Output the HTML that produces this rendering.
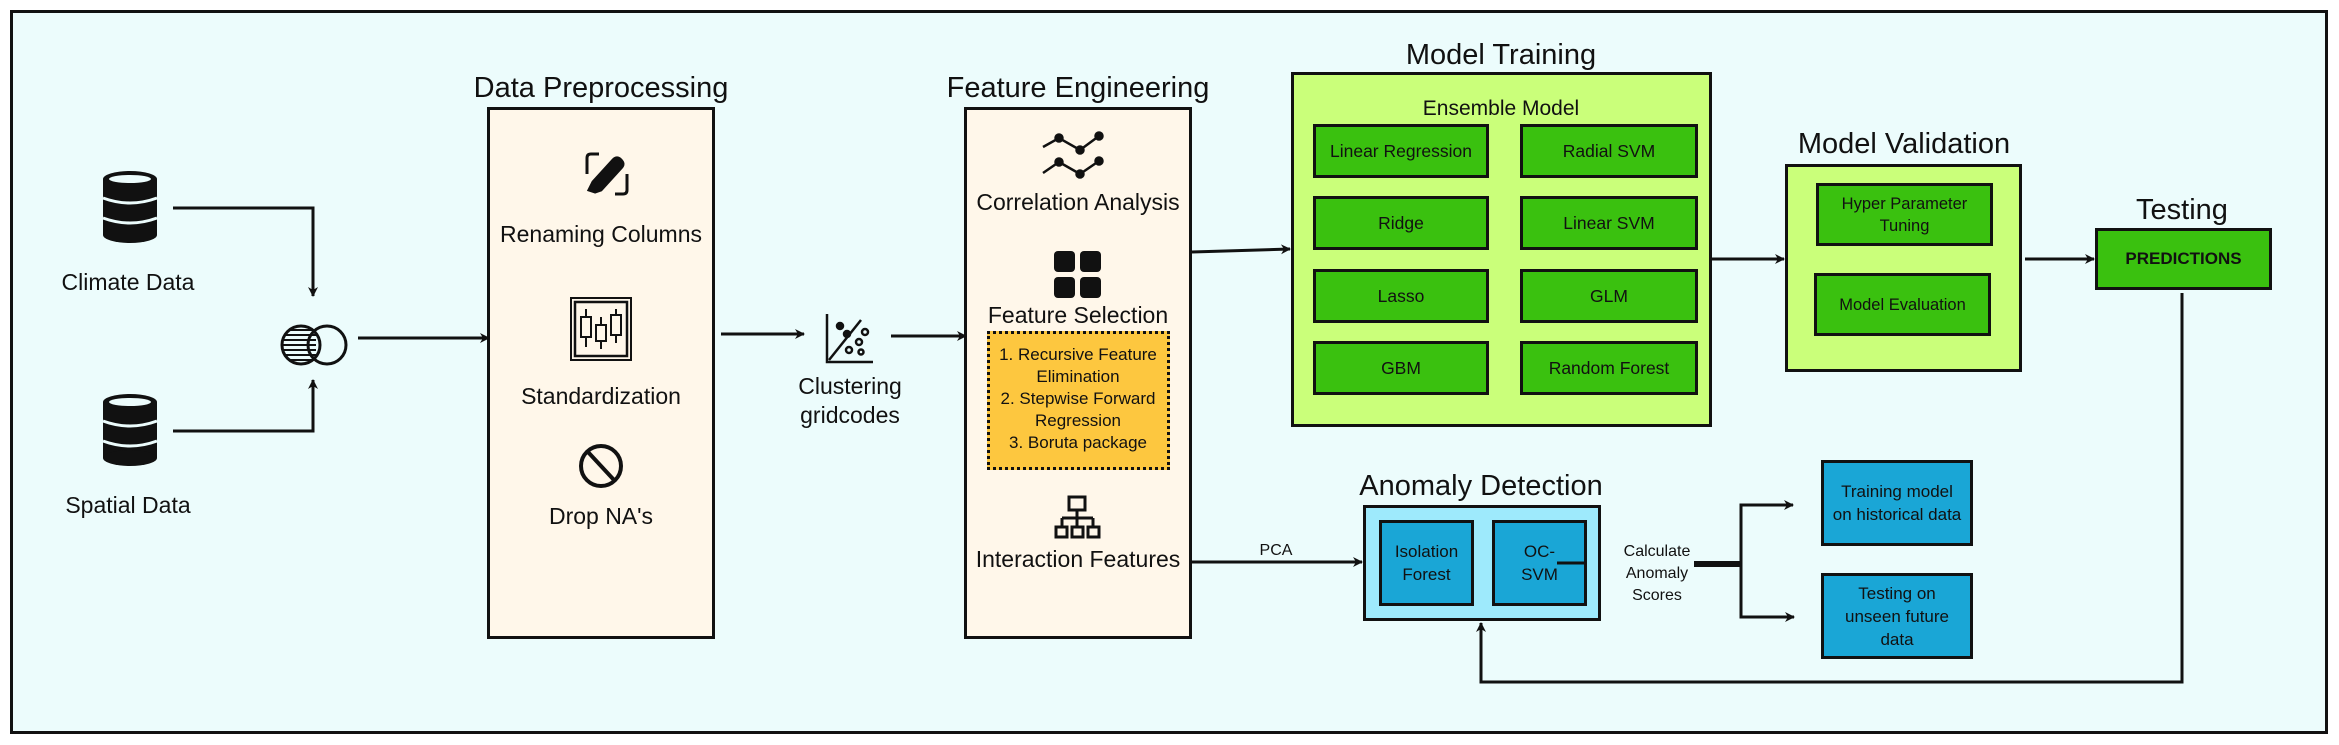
<!DOCTYPE html>
<html><head><meta charset="utf-8"><style>
body{margin:0;width:2339px;height:745px;background:#fff;position:relative;overflow:hidden;font-family:"Liberation Sans",sans-serif;color:#111}
.a{position:absolute;box-sizing:border-box}
.t{position:absolute;text-align:center;white-space:nowrap;transform:translateX(-50%)}
.g{position:absolute;box-sizing:border-box;background:#3ac10f;border:3px solid #111;display:flex;align-items:center;justify-content:center;text-align:center;font-size:17.5px;line-height:24px}
.b{position:absolute;box-sizing:border-box;background:#1aa6d6;border:3px solid #111;display:flex;align-items:center;justify-content:center;text-align:center;font-size:17px;line-height:23px}
</style></head><body>
<div class="a" style="left:10px;top:10px;width:2318px;height:724px;background:#ecfcfc;border:3px solid #111"></div>

<div class="a" style="left:487px;top:107px;width:228px;height:532px;background:#fff7ea;border:3px solid #111"></div>
<div class="a" style="left:964px;top:107px;width:228px;height:532px;background:#fff7ea;border:3px solid #111"></div>
<div class="a" style="left:987px;top:331px;width:183px;height:139px;background:#fdc73f;border:3px dotted #111"></div>
<div class="a" style="left:1291px;top:72px;width:421px;height:355px;background:#caff7a;border:3px solid #111"></div>
<div class="a" style="left:1785px;top:164px;width:237px;height:208px;background:#caff7a;border:3px solid #111"></div>
<div class="a" style="left:1363px;top:505px;width:238px;height:116px;background:#9eeafc;border:3px solid #111"></div>

<div class="t" style="left:601px;top:72px;font-size:29px">Data Preprocessing</div>
<div class="t" style="left:1078px;top:72px;font-size:29px">Feature Engineering</div>
<div class="t" style="left:1501px;top:39px;font-size:29px">Model Training</div>
<div class="t" style="left:1904px;top:128px;font-size:29px">Model Validation</div>
<div class="t" style="left:2182px;top:194px;font-size:29px">Testing</div>
<div class="t" style="left:1481px;top:470px;font-size:29px">Anomaly Detection</div>

<div class="t" style="left:128px;top:269px;font-size:23px">Climate Data</div>
<div class="t" style="left:128px;top:492px;font-size:23px">Spatial Data</div>
<div class="t" style="left:601px;top:221px;font-size:23px">Renaming Columns</div>
<div class="t" style="left:601px;top:383px;font-size:23px">Standardization</div>
<div class="t" style="left:601px;top:503px;font-size:23px">Drop NA's</div>
<div class="t" style="left:850px;top:372px;font-size:23px;line-height:29px">Clustering<br>gridcodes</div>
<div class="t" style="left:1078px;top:189px;font-size:23px">Correlation Analysis</div>
<div class="t" style="left:1078px;top:302px;font-size:23px">Feature Selection</div>
<div class="t" style="left:1078px;top:344px;font-size:17px;line-height:22px">1. Recursive Feature<br>Elimination<br>2. Stepwise Forward<br>Regression<br>3. Boruta package</div>
<div class="t" style="left:1078px;top:546px;font-size:23px">Interaction Features</div>
<div class="t" style="left:1501px;top:97px;font-size:21px">Ensemble Model</div>
<div class="t" style="left:1276px;top:542px;font-size:16px">PCA</div>
<div class="t" style="left:1657px;top:541px;font-size:16px;line-height:22px">Calculate<br>Anomaly<br>Scores</div>

<div class="g" style="left:1313px;top:124px;width:176px;height:54px">Linear Regression</div>
<div class="g" style="left:1520px;top:124px;width:178px;height:54px">Radial SVM</div>
<div class="g" style="left:1313px;top:196px;width:176px;height:54px">Ridge</div>
<div class="g" style="left:1520px;top:196px;width:178px;height:54px">Linear SVM</div>
<div class="g" style="left:1313px;top:269px;width:176px;height:54px">Lasso</div>
<div class="g" style="left:1520px;top:269px;width:178px;height:54px">GLM</div>
<div class="g" style="left:1313px;top:341px;width:176px;height:54px">GBM</div>
<div class="g" style="left:1520px;top:341px;width:178px;height:54px">Random Forest</div>
<div class="g" style="left:1816px;top:183px;width:177px;height:63px;font-size:16.5px;line-height:22px">Hyper Parameter<br>Tuning</div>
<div class="g" style="left:1814px;top:273px;width:177px;height:63px;font-size:16.5px">Model Evaluation</div>
<div class="g" style="left:2095px;top:228px;width:177px;height:62px;font-weight:bold;font-size:17px">PREDICTIONS</div>

<div class="b" style="left:1379px;top:520px;width:95px;height:86px">Isolation<br>Forest</div>
<div class="b" style="left:1492px;top:520px;width:95px;height:86px">OC-<br>SVM</div>
<div class="b" style="left:1821px;top:460px;width:152px;height:86px">Training model<br>on historical data</div>
<div class="b" style="left:1821px;top:573px;width:152px;height:86px">Testing on<br>unseen future<br>data</div>

<svg class="a" style="left:0;top:0" width="2339" height="745" viewBox="0 0 2339 745">
<defs><marker id="ar" markerWidth="10" markerHeight="10" refX="9" refY="5" orient="auto" markerUnits="userSpaceOnUse"><path d="M0,0 L10,5 L0,10 L3,5 z" fill="#111"/></marker></defs>
<g stroke="#111" stroke-width="3" fill="none" marker-end="url(#ar)">
<path d="M173,208 H313 V296"/>
<path d="M173,431 H313 V380"/>
<path d="M358,338 H489"/>
<path d="M721,334 H804"/>
<path d="M891,336 H966"/>
<path d="M1192,252 L1290,249"/>
<path d="M1712,259 H1784"/>
<path d="M2025,259 H2094"/>
<path d="M1192,562 H1362"/>
<path d="M2182,293 V682 H1481 V623"/>
<path d="M1741,564 V505 H1793"/>
<path d="M1741,564 V617 H1794"/>
</g>
<path d="M1694,564 H1741" stroke="#111" stroke-width="6"/>
<path d="M1557,563 H1586" stroke="#111" stroke-width="3"/>

<g fill="#111">
<g transform="translate(103,171)">
<ellipse cx="27" cy="8" rx="27" ry="8"/><rect x="0" y="8" width="54" height="56"/><ellipse cx="27" cy="64" rx="27" ry="8"/>
<ellipse cx="27" cy="8" rx="21" ry="4" fill="#ecfcfc"/>
<path d="M0,27 Q27,37 54,27" stroke="#ecfcfc" stroke-width="3" fill="none"/>
<path d="M0,47 Q27,57 54,47" stroke="#ecfcfc" stroke-width="3" fill="none"/>
</g>
<g transform="translate(103,394)">
<ellipse cx="27" cy="8" rx="27" ry="8"/><rect x="0" y="8" width="54" height="56"/><ellipse cx="27" cy="64" rx="27" ry="8"/>
<ellipse cx="27" cy="8" rx="21" ry="4" fill="#ecfcfc"/>
<path d="M0,27 Q27,37 54,27" stroke="#ecfcfc" stroke-width="3" fill="none"/>
<path d="M0,47 Q27,57 54,47" stroke="#ecfcfc" stroke-width="3" fill="none"/>
</g>
</g>
<g stroke="#111" stroke-width="3" fill="none">
<circle cx="301" cy="345" r="19"/><circle cx="327" cy="345" r="19"/>
<path d="M285,335 H316 M283,340 H316 M283,345 H316 M283,350 H316 M285,355 H316 M289,360 H314 M290,330 H314" stroke-width="2"/>
</g>
<g transform="translate(585,152)" stroke="#111" fill="none" stroke-width="3">
<path d="M2,22 V6 Q2,2 6,2 H14"/><path d="M42,22 V38 Q42,42 38,42 H30"/>
<path d="M10,40 L4,38 L8,30 L28,8 Q32,4 36,8 Q40,12 36,16 L16,38 Z" fill="#111"/>
</g>
<g transform="translate(570,297)" stroke="#111" fill="none" stroke-width="2">
<rect x="1" y="1" width="60" height="62"/><rect x="5" y="5" width="52" height="54" stroke-width="2.5"/>
<path d="M16,12 V50 M31,20 V52 M46,12 V46"/>
<rect x="11" y="20" width="10" height="20" fill="#fff7ea"/><rect x="26" y="28" width="10" height="16" fill="#fff7ea"/><rect x="41" y="18" width="10" height="20" fill="#fff7ea"/>
</g>
<g stroke="#111" stroke-width="4" fill="none"><circle cx="601" cy="466" r="20"/><path d="M588,452 L614,480"/></g>
<g transform="translate(825,314)" stroke="#111" fill="none" stroke-width="2.5">
<path d="M2,0 V48 H48"/><path d="M4,46 L36,6"/>
<circle cx="15" cy="12" r="3" fill="#111"/><circle cx="22" cy="20" r="3" fill="#111"/><circle cx="34" cy="28" r="3"/><circle cx="24" cy="36" r="3"/><circle cx="40" cy="18" r="3"/><circle cx="36" cy="38" r="2.5"/>
</g>
<g stroke="#111" stroke-width="2.5" fill="#111">
<path d="M1043,147 L1059,138 L1080,150 L1099,136" fill="none"/>
<path d="M1043,173 L1059,162 L1080,174 L1099,161" fill="none"/>
<circle cx="1059" cy="138" r="3.5"/><circle cx="1080" cy="150" r="3.5"/><circle cx="1099" cy="136" r="3.5"/>
<circle cx="1059" cy="162" r="3.5"/><circle cx="1080" cy="174" r="3.5"/><circle cx="1099" cy="161" r="3.5"/>
</g>
<g fill="#111">
<rect x="1054" y="251" width="21" height="21" rx="4"/><rect x="1080" y="251" width="21" height="21" rx="4"/>
<rect x="1054" y="277" width="21" height="21" rx="4"/><rect x="1080" y="277" width="21" height="21" rx="4"/>
</g>
<g stroke="#111" stroke-width="3" fill="none">
<rect x="1069" y="497" width="16" height="13"/><path d="M1077,510 V518 M1062,518 H1093 M1062,518 V526 M1077,518 V526 M1093,518 V526"/>
<rect x="1056" y="527" width="11" height="10"/><rect x="1072" y="527" width="11" height="10"/><rect x="1088" y="527" width="11" height="10"/>
</g>
</svg>
</body></html>
